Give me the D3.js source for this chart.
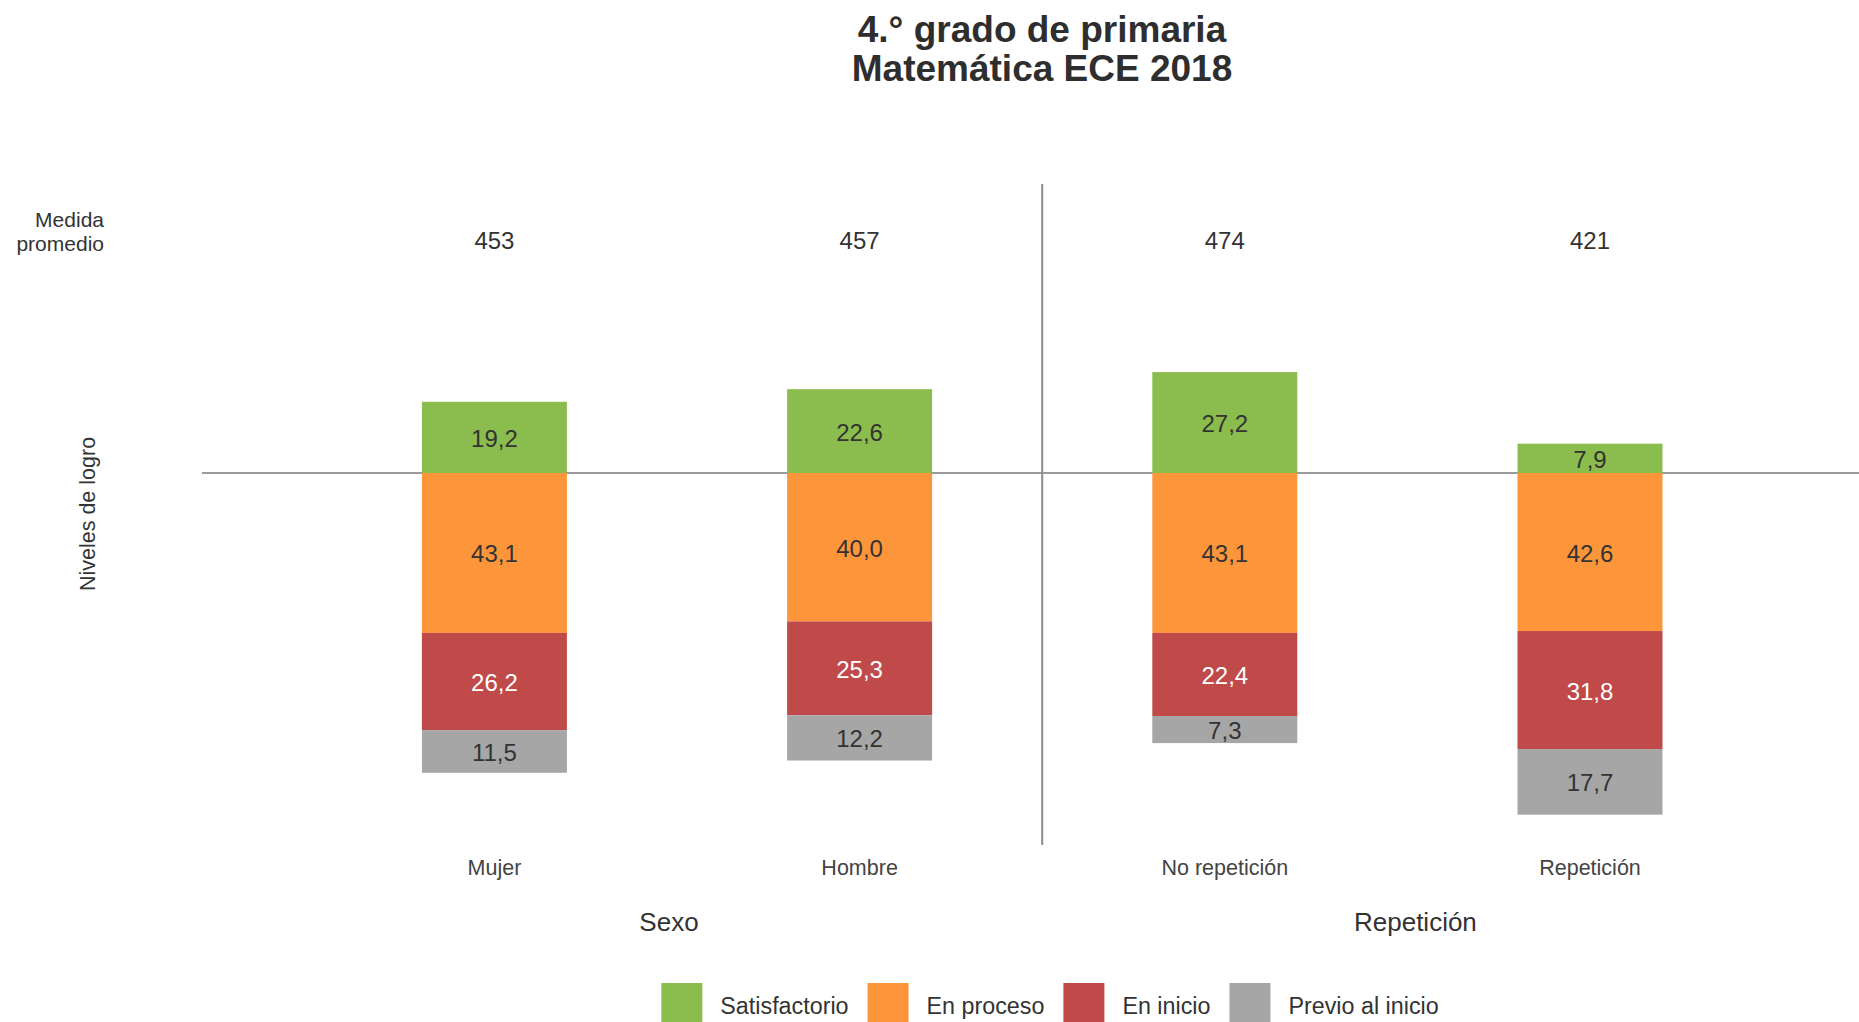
<!DOCTYPE html>
<html>
<head>
<meta charset="utf-8">
<script src="https://cdn.jsdelivr.net/npm/d3@7"></script>
<style>
  html, body { margin: 0; padding: 0; background: #ffffff; }
  svg { display: block; font-family: "Liberation Sans", Arial, Helvetica, sans-serif; }
</style>
</head>
<body>
<svg id="chart" width="1859" height="1022"></svg>
<script>
// ---- Data ----
const categories = ["Mujer", "Hombre", "No repetición", "Repetición"];
const groups = [
  { name: "Sexo", members: ["Mujer", "Hombre"] },
  { name: "Repetición", members: ["No repetición", "Repetición"] }
];
const medidaPromedio = [453, 457, 474, 421];
const levels = ["Satisfactorio", "En proceso", "En inicio", "Previo al inicio"];
const satisfactorio = [19.2, 22.6, 27.2, 7.9];
const enProceso = [43.1, 40.0, 43.1, 42.6];
const enInicio = [26.2, 25.3, 22.4, 31.8];
const previoInicio = [11.5, 12.2, 7.3, 17.7];
const titleLines = ["4.° grado de primaria", "Matemática ECE 2018"];

// ---- Styles ----
const colors = {
  "Satisfactorio": "#8bbd4e",
  "En proceso": "#fd963b",
  "En inicio": "#c0494a",
  "Previo al inicio": "#a6a6a6"
};
const labelColors = {
  "Satisfactorio": "#333333",
  "En proceso": "#333333",
  "En inicio": "#ffffff",
  "Previo al inicio": "#333333"
};

const W = 1859, H = 1022;
const svg = d3.select("#chart");

// ---- Scales ----
const x = d3.scaleBand()
  .domain(categories)
  .range([311.8, 1772.6])
  .paddingInner(0.603)
  .paddingOuter(0.3015);

const zeroY = 473;
const y = d3.scaleLinear().domain([-100, 100]).range([zeroY + 371, zeroY - 371]);

// ---- Build stacked segments ----
const segs = [];
categories.forEach((c, i) => {
  segs.push({ cat: c, level: "Satisfactorio", v: satisfactorio[i], y0: 0, y1: satisfactorio[i] });
  let acc = 0;
  [["En proceso", enProceso], ["En inicio", enInicio], ["Previo al inicio", previoInicio]].forEach(([lv, arr]) => {
    const v = arr[i];
    segs.push({ cat: c, level: lv, v: v, y0: -acc, y1: -(acc + v) });
    acc += v;
  });
});

// ---- Title ----
svg.append("g").selectAll("text").data(titleLines).join("text")
  .attr("x", 1042)
  .attr("y", (d, i) => 29 + i * 39.5)
  .attr("text-anchor", "middle")
  .attr("dominant-baseline", "central")
  .attr("font-size", 37)
  .attr("font-weight", "bold")
  .attr("fill", "#2e2e2e")
  .text(d => d);

// ---- Reference lines ----
const sepX = (x("Hombre") + x.bandwidth() / 2 + x("No repetición") + x.bandwidth() / 2) / 2;
svg.append("line")
  .attr("x1", 202).attr("x2", W)
  .attr("y1", y(0)).attr("y2", y(0))
  .attr("stroke", "#9a9a9a").attr("stroke-width", 2);
svg.append("line")
  .attr("x1", sepX).attr("x2", sepX)
  .attr("y1", 184).attr("y2", 845)
  .attr("stroke", "#8c8c8c").attr("stroke-width", 2);

// ---- Bars ----
svg.append("g").selectAll("rect").data(segs).join("rect")
  .attr("x", d => x(d.cat))
  .attr("width", x.bandwidth())
  .attr("y", d => y(Math.max(d.y0, d.y1)))
  .attr("height", d => Math.abs(y(d.y0) - y(d.y1)))
  .attr("fill", d => colors[d.level]);

// ---- Bar labels ----
svg.append("g").selectAll("text").data(segs).join("text")
  .attr("x", d => x(d.cat) + x.bandwidth() / 2)
  .attr("y", d => (y(d.y0) + y(d.y1)) / 2 + 1)
  .attr("text-anchor", "middle")
  .attr("dominant-baseline", "central")
  .attr("font-size", 24)
  .attr("fill", d => labelColors[d.level])
  .text(d => d.v.toFixed(1).replace(".", ","));

// ---- Medida promedio ----
svg.append("g").selectAll("text").data(["Medida", "promedio"]).join("text")
  .attr("x", 104)
  .attr("y", (d, i) => 219 + i * 24)
  .attr("text-anchor", "end")
  .attr("dominant-baseline", "central")
  .attr("font-size", 21)
  .attr("fill", "#333333")
  .text(d => d);

svg.append("g").selectAll("text").data(medidaPromedio).join("text")
  .attr("x", (d, i) => x(categories[i]) + x.bandwidth() / 2)
  .attr("y", 240)
  .attr("text-anchor", "middle")
  .attr("dominant-baseline", "central")
  .attr("font-size", 24)
  .attr("fill", "#333333")
  .text(d => d);

// ---- Niveles de logro ----
svg.append("text")
  .attr("transform", "translate(88,514) rotate(-90)")
  .attr("text-anchor", "middle")
  .attr("dominant-baseline", "central")
  .attr("font-size", 21.5)
  .attr("fill", "#333333")
  .text("Niveles de logro");

// ---- Category labels (x axis) ----
const xAxis = d3.axisBottom(x).tickSize(0).tickPadding(0);
const gx = svg.append("g").attr("transform", "translate(0,860)").call(xAxis);
gx.select(".domain").remove();
gx.selectAll("text")
  .attr("font-size", 21.5)
  .attr("font-family", "'Liberation Sans', Arial, sans-serif")
  .attr("fill", "#444444");

// ---- Group labels ----
const groupOffsets = [-8, 8];
svg.append("g").selectAll("text").data(groups).join("text")
  .attr("x", (g, i) => d3.mean(g.members, m => x(m) + x.bandwidth() / 2) + groupOffsets[i])
  .attr("y", 922)
  .attr("text-anchor", "middle")
  .attr("dominant-baseline", "central")
  .attr("font-size", 26)
  .attr("fill", "#333333")
  .text(g => g.name);

// ---- Legend ----
const legend = svg.append("g");
const sq = 41, gapText = 18, gapItem = 19, legFont = 23.3;
const items = legend.selectAll("g").data(levels).join("g");
items.append("rect")
  .attr("width", sq).attr("height", 42)
  .attr("y", 983)
  .attr("fill", d => colors[d]);
items.append("text")
  .attr("x", sq + gapText)
  .attr("y", 1006)
  .attr("dominant-baseline", "central")
  .attr("font-size", legFont)
  .attr("fill", "#333333")
  .text(d => d);
let cx = 0;
const offsets = [];
items.each(function () {
  offsets.push(cx);
  const tw = d3.select(this).select("text").node().getComputedTextLength();
  cx += sq + gapText + tw + gapItem;
});
const totalW = cx - gapItem;
const legStart = 1050 - totalW / 2;
items.attr("transform", (d, i) => `translate(${legStart + offsets[i]},0)`);
</script>
</body>
</html>
